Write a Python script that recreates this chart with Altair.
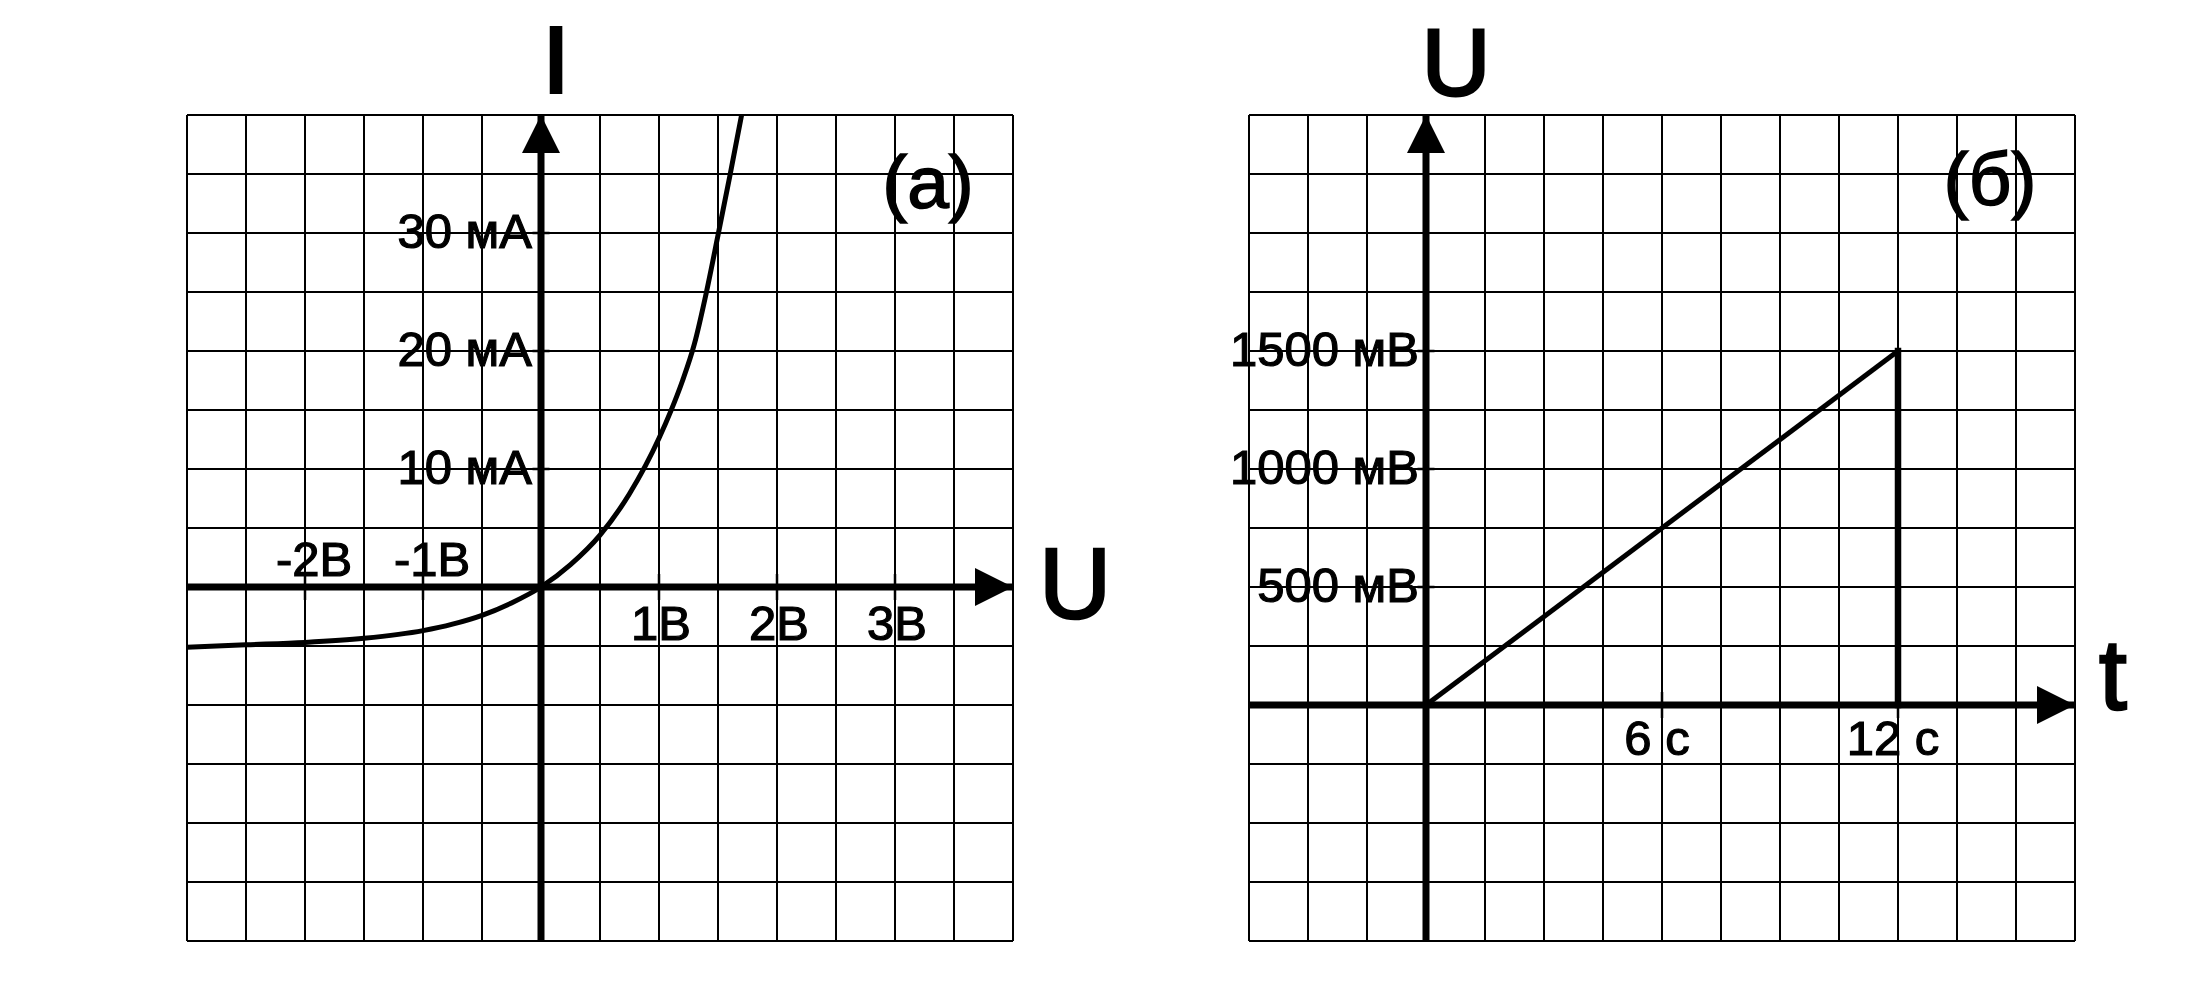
import altair as alt
import pandas as pd

# ---------------- data ----------------
# Panel (а): current-voltage curve of a diode (U in volts, I in mA)
diode_U = [-3.0, -2.5, -2.0, -1.5, -1.0, -0.75, -0.5, -0.25, 0.0, 0.25,
           0.5, 0.75, 1.0, 1.1, 1.2, 1.3, 1.4, 1.5, 1.6, 1.7]
diode_I = [-5.1, -4.9, -4.7, -4.35, -3.7, -3.15, -2.4, -1.35, 0.0, 1.9,
           4.4, 7.9, 12.6, 14.9, 17.5, 20.6, 24.9, 29.8, 34.8, 40.0]

# Panel (б): voltage ramp (t in s, U in mV)
ramp_t = [0, 12]
ramp_U = [0, 1500]
drop_t = [12]
drop_U_low = [0]
drop_U_high = [1500]

# grid lines
gridA_U = [-3.0, -2.5, -2.0, -1.5, -1.0, -0.5, 0.0, 0.5, 1.0, 1.5, 2.0, 2.5, 3.0, 3.5, 4.0]
gridA_I = [-30, -25, -20, -15, -10, -5, 0, 5, 10, 15, 20, 25, 30, 35, 40]
gridB_t = [-4.5, -3.0, -1.5, 0.0, 1.5, 3.0, 4.5, 6.0, 7.5, 9.0, 10.5, 12.0, 13.5, 15.0, 16.5]
gridB_U = [-1000, -750, -500, -250, 0, 250, 500, 750, 1000, 1250, 1500, 1750, 2000, 2250, 2500]

# tick labels
tickA_U_neg = [-2, -1]
labA_U_neg = ["-2В", "-1В"]
tickA_U_pos = [1, 2, 3]
labA_U_pos = ["1В", "2В", "3В"]
tickA_I = [10, 20, 30]
labA_I = ["10 мА", "20 мА", "30 мА"]
tickB_t = [6, 12]
labB_t = ["6 с", "12 с"]
tickB_U = [500, 1000, 1500]
labB_U = ["500 мВ", "1000 мВ", "1500 мВ"]

# ---------------- layout constants ----------------
FONT = "Liberation Sans"
CELL = 59.0          # px per grid cell
H = 952              # panel height (px)
GRID_TOP = 107       # grid top inside panel
W_A, GRID_LEFT_A = 1123, 179
W_B, GRID_LEFT_B = 970, 69
SPACING = 49
ARROW_UP = "M0,0L-1,2L1,2Z"
ARROW_RIGHT = "M0,0L-2,-1L-2,1Z"
HLINE = "M-1,0L1,0"
VLINE = "M0,-1L0,1"
NO_FRAME = alt.ViewBackground(stroke="transparent", strokeOpacity=0, strokeWidth=0)


def make_scales(gx, gy, W, grid_left):
    px_x = CELL / (gx[1] - gx[0])
    px_y = CELL / (gy[1] - gy[0])
    xmin = gx[0] - grid_left / px_x
    xmax = xmin + W / px_x
    ymax = gy[-1] + GRID_TOP / px_y
    ymin = ymax - H / px_y
    xs = alt.Scale(domain=[xmin, xmax], nice=False, zero=False)
    ys = alt.Scale(domain=[ymin, ymax], nice=False, zero=False)
    return xs, ys


def enc(xs, ys, x="x", y="y", **extra):
    return dict(x=alt.X(f"{x}:Q", scale=xs, axis=None),
                y=alt.Y(f"{y}:Q", scale=ys, axis=None), **extra)


def base_layers(gx, gy, xs, ys):
    vgrid = alt.Chart(pd.DataFrame({"x": gx, "y0": gy[0], "y1": gy[-1]})).mark_rule(
        color="black", strokeWidth=2).encode(**enc(xs, ys, y="y0", y2=alt.Y2("y1")))
    hgrid = alt.Chart(pd.DataFrame({"y": gy, "x0": gx[0], "x1": gx[-1]})).mark_rule(
        color="black", strokeWidth=2).encode(**enc(xs, ys, x="x0", x2=alt.X2("x1")))
    haxis = alt.Chart(pd.DataFrame({"y": [0], "x0": [gx[0]], "x1": [gx[-1]]})).mark_rule(
        color="black", strokeWidth=7).encode(**enc(xs, ys, x="x0", x2=alt.X2("x1")))
    vaxis = alt.Chart(pd.DataFrame({"x": [0], "y0": [gy[0]], "y1": [gy[-1]]})).mark_rule(
        color="black", strokeWidth=7).encode(**enc(xs, ys, y="y0", y2=alt.Y2("y1")))
    return [vgrid, hgrid], [haxis, vaxis]


def arrows(gx, gy, xs, ys):
    up = alt.Chart(pd.DataFrame({"x": [0], "y": [gy[-1]]})).mark_point(
        shape=ARROW_UP, size=1444, filled=True, color="black", opacity=1, strokeWidth=0
    ).encode(**enc(xs, ys))
    right = alt.Chart(pd.DataFrame({"x": [gx[-1]], "y": [0]})).mark_point(
        shape=ARROW_RIGHT, size=1444, filled=True, color="black", opacity=1, strokeWidth=0
    ).encode(**enc(xs, ys))
    return [up, right]


def ticks(xvals, yvals, xs, ys):
    layers = []
    if xvals:
        layers.append(alt.Chart(pd.DataFrame({"x": xvals, "y": 0})).mark_point(
            shape=VLINE, size=26 ** 2, filled=False, color="black", opacity=1, strokeWidth=2.5
        ).encode(**enc(xs, ys)))
    if yvals:
        layers.append(alt.Chart(pd.DataFrame({"x": 0, "y": yvals})).mark_point(
            shape=HLINE, size=17 ** 2, filled=False, color="black", opacity=1, strokeWidth=2.5
        ).encode(**enc(xs, ys)))
    return layers


def text(df, xs, ys, sw, **kw):
    return alt.Chart(df).mark_text(font=FONT, color="black", stroke="black",
                                   strokeWidth=sw, **kw).encode(
        **enc(xs, ys, text="label:N"))


# ---------------- panel (а) ----------------
xa, ya = make_scales(gridA_U, gridA_I, W_A, GRID_LEFT_A)
gridsA, axesA = base_layers(gridA_U, gridA_I, xa, ya)
curve = alt.Chart(pd.DataFrame({"x": diode_U, "y": diode_I})).mark_line(
    color="black", strokeWidth=5, interpolate="monotone").encode(**enc(xa, ya, order="x:Q"))

textsA = [
    text(pd.DataFrame({"x": 0, "y": tickA_I, "label": labA_I}), xa, ya, 1.2,
         align="right", baseline="middle", dx=-9, fontSize=49),
    text(pd.DataFrame({"x": tickA_U_neg, "y": 0, "label": labA_U_neg}), xa, ya, 1.2,
         align="center", baseline="alphabetic", dx=9, dy=-11, fontSize=49),
    text(pd.DataFrame({"x": tickA_U_pos, "y": 0, "label": labA_U_pos}), xa, ya, 1.2,
         align="center", baseline="alphabetic", dx=2, dy=53, fontSize=49),
    text(pd.DataFrame({"x": [0], "y": [gridA_I[-1]], "label": ["I"]}), xa, ya, 4,
         align="center", baseline="alphabetic", dx=15, dy=-23, fontSize=92),
    text(pd.DataFrame({"x": [gridA_U[-1]], "y": [0], "label": ["U"]}), xa, ya, 2.5,
         align="center", baseline="alphabetic", dx=62, dy=31, fontSize=100),
    text(pd.DataFrame({"x": [gridA_U[-1]], "y": [gridA_I[-1]], "label": ["(а)"]}), xa, ya, 1.5,
         align="center", baseline="alphabetic", dx=-85, dy=93, fontSize=75),
]

panelA = alt.layer(
    *gridsA, curve, *axesA, *arrows(gridA_U, gridA_I, xa, ya),
    *ticks(tickA_U_neg + tickA_U_pos, tickA_I, xa, ya), *textsA
).properties(width=W_A, height=H, view=NO_FRAME)

# ---------------- panel (б) ----------------
xb, yb = make_scales(gridB_t, gridB_U, W_B, GRID_LEFT_B)
gridsB, axesB = base_layers(gridB_t, gridB_U, xb, yb)
ramp = alt.Chart(pd.DataFrame({"x": ramp_t, "y": ramp_U})).mark_line(
    color="black", strokeWidth=5).encode(**enc(xb, yb))
drop = alt.Chart(pd.DataFrame({"x": drop_t, "y0": drop_U_low, "y1": drop_U_high})).mark_rule(
    color="black", strokeWidth=6.5, strokeCap="square").encode(**enc(xb, yb, y="y0", y2=alt.Y2("y1")))

textsB = [
    text(pd.DataFrame({"x": 0, "y": tickB_U, "label": labB_U}), xb, yb, 1.2,
         align="right", baseline="middle", dx=-7, fontSize=49),
    text(pd.DataFrame({"x": tickB_t, "y": 0, "label": labB_t}), xb, yb, 1.2,
         align="center", baseline="alphabetic", dx=-5, dy=50, fontSize=49),
    text(pd.DataFrame({"x": [0], "y": [gridB_U[-1]], "label": ["U"]}), xb, yb, 3,
         align="center", baseline="alphabetic", dx=30, dy=-20, fontSize=95),
    text(pd.DataFrame({"x": [gridB_t[-1]], "y": [0], "label": ["t"]}), xb, yb, 2.5,
         align="center", baseline="alphabetic", dx=38, dy=4, fontSize=100),
    text(pd.DataFrame({"x": [gridB_t[-1]], "y": [gridB_U[-1]], "label": ["(б)"]}), xb, yb, 1.5,
         align="center", baseline="alphabetic", dx=-85, dy=90, fontSize=75),
]

panelB = alt.layer(
    *gridsB, ramp, drop, *axesB, *arrows(gridB_t, gridB_U, xb, yb),
    *ticks(tickB_t, tickB_U, xb, yb), *textsB
).properties(width=W_B, height=H, view=NO_FRAME)

chart = alt.hconcat(panelA, panelB, spacing=SPACING, bounds="flush").properties(
    padding=0).configure_view(stroke="transparent", strokeOpacity=0, strokeWidth=0).configure(
    background="white")

chart.save("out.html", embed_options={"renderer": "svg", "actions": False})
